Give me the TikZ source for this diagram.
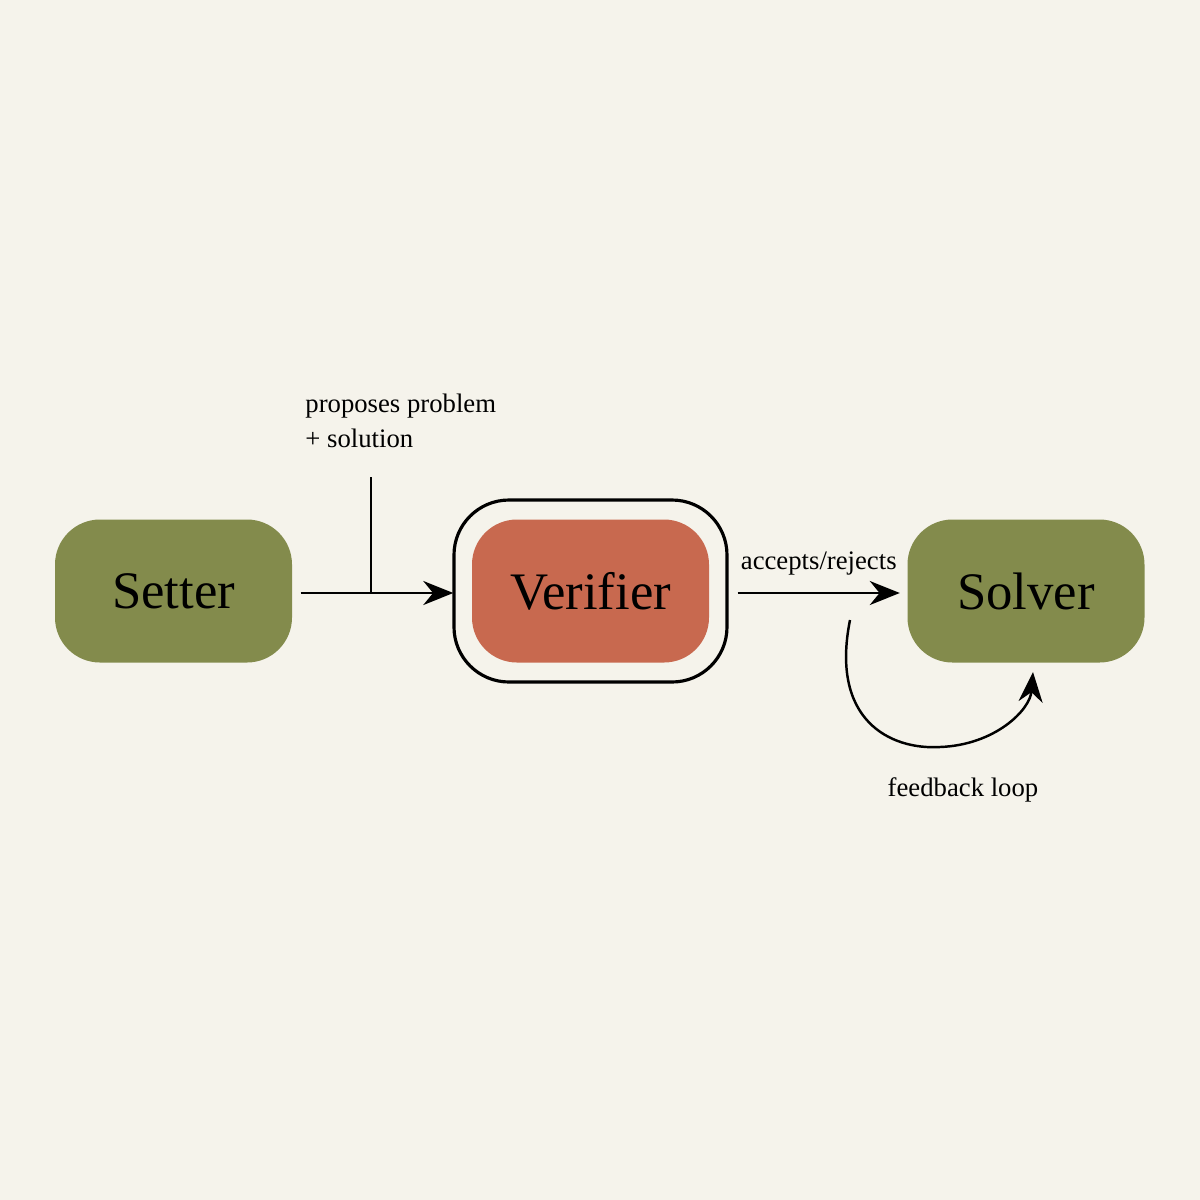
\documentclass[tikz,border=0pt]{standalone}
\usepackage{fontspec}
\setmainfont{Liberation Serif}
\usetikzlibrary{positioning, arrows.meta}
\definecolor{paper}{HTML}{F5F3EB}
\definecolor{olive}{HTML}{838B4C}
\definecolor{terra}{HTML}{C8694F}
\tikzset{
	agent/.style={
		fill=olive,
		rounded corners=0.45cm,
		minimum width=2.37cm,
		minimum height=1.43cm,
		font={\fontsize{15}{18}\selectfont}
	},
	check/.append style={
		agent,
		fill=terra
	},
	labe/.style={
		align=left,
		font={\fontsize{7.6}{10}\selectfont}
	},
	flow/.style={
		-{Stealth[length=3mm,width=2.4mm]},
		line width=0.7pt
	}
}
\begin{document}
\begin{tikzpicture}
\fill[paper] (0,0) rectangle (12,-12);
\useasboundingbox (0,0) rectangle (12,-12);

\node(setter)[agent] at (1.735,-5.91){Setter};
\node(verifier)[check] at (5.905,-5.91){Verifier};
\node(solver)[agent] at (10.26,-5.91){Solver};
\draw[line width=0.9pt, rounded corners=0.55cm] (4.54,-5.0) rectangle (7.27,-6.82);
\node(frame)[minimum width=2.73cm, minimum height=1.82cm] at (5.905,-5.91){};

% setter to verifier
\coordinate(join) at (3.71,-5.93);
\coordinate(top) at (3.71,-4.77);
\draw[flow] ([xshift=0.08cm]setter.east |- join) -- (frame.west |- join);
\draw[line width=0.7pt] (top) -- (join);
\node(prop)[labe, anchor=south west] at (2.93,-4.6){proposes problem\\+ solution};

% verifier to solver
\draw[flow] ([xshift=0.1cm]frame.east |- join) -- ([xshift=-0.07cm]solver.west |- join)
	node(acc)[labe, midway, above=0.05cm]{accepts/rejects};

% feedback
\coordinate(fbstart) at (8.5,-6.2);
\draw[flow] (fbstart) .. controls (8.3,-7.2) and (8.9,-7.5) .. (9.4,-7.47)
	.. controls (9.95,-7.45) and (10.3,-7.1) .. (10.33,-6.72);
\node(fb)[labe] at (9.63,-7.9){feedback loop};
\end{tikzpicture}
\end{document}
